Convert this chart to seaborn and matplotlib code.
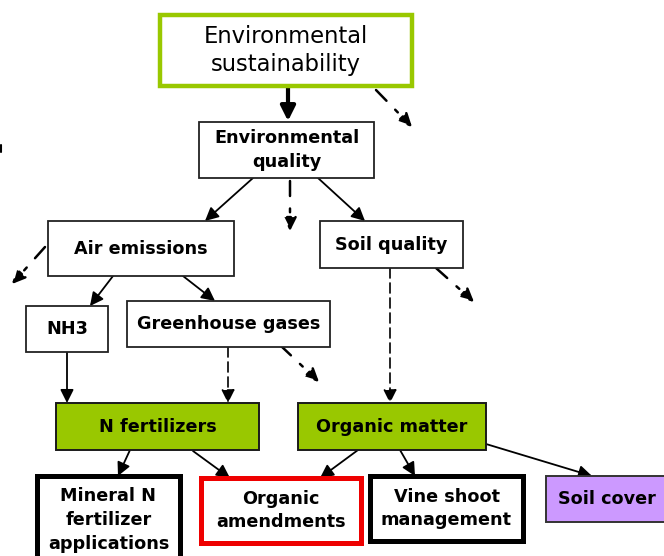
import matplotlib
matplotlib.use("Agg")
import matplotlib.pyplot as plt
from matplotlib.patches import Rectangle, FancyArrowPatch
import seaborn as sns

# Knoten (Beschriftungen)
labels = [
    "Environmental\nsustainability",
    "Environmental\nquality",
    "Air emissions",
    "Soil quality",
    "NH3",
    "Greenhouse gases",
    "N fertilizers",
    "Organic matter",
    "Mineral N\nfertilizer\napplications",
    "Organic\namendments",
    "Vine shoot\nmanagement",
    "Soil cover",
]

# Kanten: (von, nach, Stil)
edges = [
    ("Environmental\nsustainability", "Environmental\nquality", "bold"),
    ("Environmental\nquality", "Air emissions", "solid"),
    ("Environmental\nquality", "Soil quality", "solid"),
    ("Air emissions", "NH3", "solid"),
    ("Air emissions", "Greenhouse gases", "solid"),
    ("NH3", "N fertilizers", "solid"),
    ("Greenhouse gases", "N fertilizers", "dashed"),
    ("Soil quality", "Organic matter", "dashed"),
    ("N fertilizers", "Mineral N\nfertilizer\napplications", "solid"),
    ("N fertilizers", "Organic\namendments", "solid"),
    ("Organic matter", "Organic\namendments", "solid"),
    ("Organic matter", "Vine shoot\nmanagement", "solid"),
    ("Organic matter", "Soil cover", "solid"),
]

# Layout in Pixeln: x0, y0, x1, y1 (y nach unten)
box_pos = {
    labels[0]: (160, 15, 412, 86),
    labels[1]: (199, 122, 374, 178),
    labels[2]: (48, 221, 234, 276),
    labels[3]: (320, 221, 463, 268),
    labels[4]: (26, 306, 108, 352),
    labels[5]: (127, 301, 330, 347),
    labels[6]: (56, 403, 259, 450),
    labels[7]: (298, 403, 486, 450),
    labels[8]: (37, 476, 180, 575),
    labels[9]: (201, 478, 361, 543),
    labels[10]: (370, 476, 523, 541),
    labels[11]: (546, 476, 680, 522),
}

GREEN = "#99c800"
FS = 12.7
box_style = {
    labels[0]: dict(fc="white", ec=GREEN, lw=3.2, fs=16.3, fw="normal", ls=1.25),
    labels[6]: dict(fc=GREEN, ec="#1a1a1a", lw=1.4, fs=FS, fw="bold", ls=1.4),
    labels[7]: dict(fc=GREEN, ec="#1a1a1a", lw=1.4, fs=FS, fw="bold", ls=1.4),
    labels[8]: dict(fc="white", ec="black", lw=3.6, fs=FS, fw="bold", ls=1.4),
    labels[9]: dict(fc="white", ec="#ee0000", lw=3.6, fs=FS, fw="bold", ls=1.4),
    labels[10]: dict(fc="white", ec="black", lw=3.6, fs=FS, fw="bold", ls=1.4),
    labels[11]: dict(fc="#cc99ff", ec="#333333", lw=1.4, fs=FS, fw="bold", ls=1.4),
}
default_style = dict(fc="white", ec="#222222", lw=1.3, fs=FS, fw="bold", ls=1.4)

# Pfeil-Ankerpunkte (Start, Ende) in Pixeln
edge_pts = [
    ((288, 86), (288, 121)),
    ((253, 178), (205, 221)),
    ((318, 178), (365, 221)),
    ((113, 276), (90, 306)),
    ((183, 276), (215, 301)),
    ((67, 352), (67, 403)),
    ((228, 347), (228, 403)),
    ((390, 268), (390, 403)),
    ((130, 450), (118, 476)),
    ((193, 451), (230, 478)),
    ((358, 450), (320, 478)),
    ((400, 450), (415, 476)),
    ((486, 444), (592, 476)),
]

# lose Strich-Punkt-Pfeile (ohne Ziel)
loose_arrows = [
    ((376, 90), (412, 127)),
    ((290, 181), (290, 231)),
    ((45, 247), (12, 284)),
    ((280, 345), (319, 382)),
    ((436, 268), (474, 302)),
]

sns.set_theme(style="white")
plt.rcParams["font.family"] = ["DejaVu Sans"]

fig = plt.figure(figsize=(6.64, 5.56), dpi=100)
ax = fig.add_axes([0, 0, 1, 1])
ax.set_xlim(0, 664)
ax.set_ylim(556, 0)
ax.axis("off")


def arrow(p0, p1, ls="-", lw=1.3, scale=20):
    a = FancyArrowPatch(p0, p1, arrowstyle="-|>", mutation_scale=scale,
                        color="black", lw=lw, linestyle=ls,
                        shrinkA=0, shrinkB=0, zorder=3)
    ax.add_patch(a)


for (src, dst, style), (p0, p1) in zip(edges, edge_pts):
    if style == "bold":
        arrow(p0, p1, lw=3, scale=22)
    elif style == "dashed":
        arrow(p0, p1, ls=(0, (6, 3)), lw=1.2)
    else:
        arrow(p0, p1)

for p0, p1 in loose_arrows:
    arrow(p0, p1, ls=(0, (6, 5, 1.5, 5)), lw=1.8)

for lab in labels:
    x0, y0, x1, y1 = box_pos[lab]
    st = box_style.get(lab, default_style)
    ax.add_patch(Rectangle((x0, y0), x1 - x0, y1 - y0, facecolor=st["fc"],
                           edgecolor=st["ec"], lw=st["lw"], zorder=4))
    cx = (x0 + min(x1, 664)) / 2
    cy = (y0 + y1) / 2
    if lab == labels[8]:
        cy = 520
    if lab == labels[11]:
        cx = 607
    ax.text(cx, cy, lab, ha="center", va="center", fontsize=st["fs"],
            fontweight=st["fw"], linespacing=st["ls"], color="black", zorder=5)

# kleiner Strich am linken Rand
ax.plot([1, 1], [145, 152], color="black", lw=1.5)

fig.savefig("out.png", dpi=100)
